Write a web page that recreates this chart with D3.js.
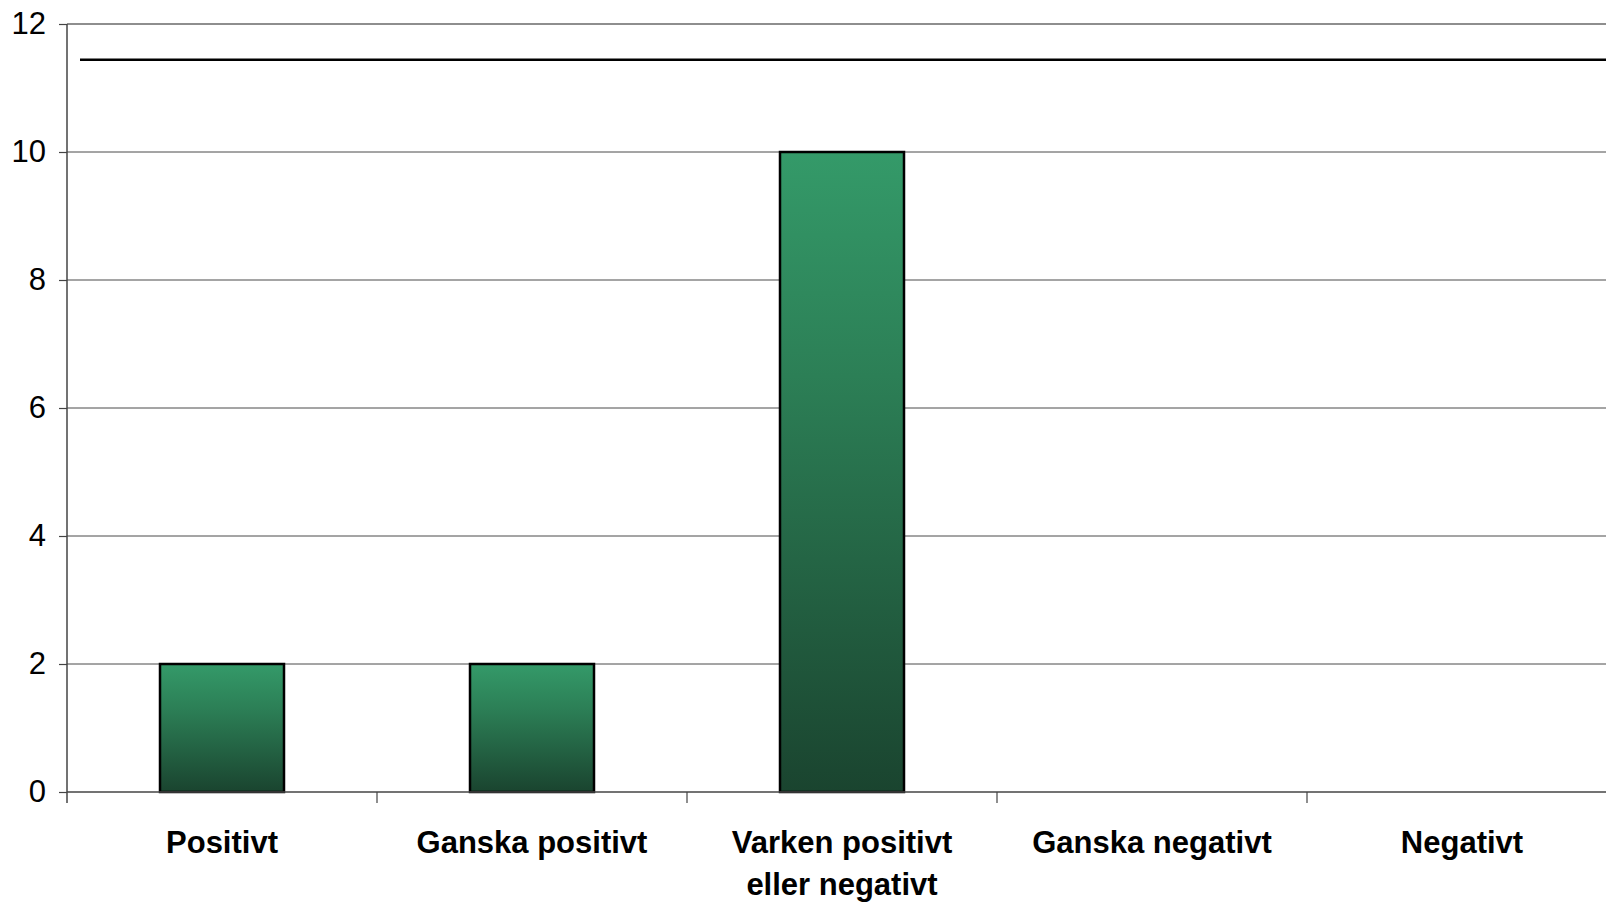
<!DOCTYPE html>
<html>
<head>
<meta charset="utf-8">
<script src="https://cdn.jsdelivr.net/npm/d3@7"></script>
<style>
  html, body { margin: 0; padding: 0; background: #fff; overflow: hidden; }
  svg { display: block; font-family: "Liberation Sans", Arial, sans-serif; }
</style>
</head>
<body>
<div id="chart"></div>
<script>
let width = 1606;
let height = 904;
let margin = ({top: 24, right: -11, bottom: 112, left: 67});

// Data
let categories = ["Positivt", "Ganska positivt", "Varken positivt|eller negativt", "Ganska negativt", "Negativt"];
let values = [2, 2, 10, 0, 0];
let yTicks = [0, 2, 4, 6, 8, 10, 12];
let refLine = 11.44;

let svg = d3.select("#chart")
    .append("svg")
    .attr("width", width)
    .attr("height", height);

// Gradient used for bars
let grad = svg.append("defs").append("linearGradient")
    .attr("id", "barGrad")
    .attr("x1", 0).attr("y1", 0).attr("x2", 0).attr("y2", 1);
grad.append("stop").attr("offset", "0%").attr("stop-color", "#349a69");
grad.append("stop").attr("offset", "35%").attr("stop-color", "#2c7f56");
grad.append("stop").attr("offset", "100%").attr("stop-color", "#1a442f");

let xScale = d3.scaleBand()
    .domain(categories)
    .range([margin.left, width - margin.right])
    .paddingInner(0.6)
    .paddingOuter(0.3);

let yScale = d3.scaleLinear()
    .domain([0, 12])
    .range([height - margin.bottom, margin.top]);

// Gridlines
svg.append("g")
    .selectAll("line")
    .data(yTicks.filter(d => d > 0))
    .enter()
    .append("line")
    .attr("x1", margin.left)
    .attr("x2", width)
    .attr("y1", d => yScale(d))
    .attr("y2", d => yScale(d))
    .attr("stroke", d => d === 12 ? "#8e8e8e" : "#4a4a4a")
    .attr("stroke-width", d => d === 12 ? 2 : 1);

// Reference line
svg.append("line")
    .attr("x1", margin.left + 13)
    .attr("x2", width)
    .attr("y1", yScale(refLine))
    .attr("y2", yScale(refLine))
    .attr("stroke", "#000")
    .attr("stroke-width", 2.5);

// Bars
svg.append("g")
    .selectAll("rect")
    .data(values.map((v, i) => ({cat: categories[i], value: v})).filter(d => d.value > 0))
    .enter()
    .append("rect")
    .attr("x", d => xScale(d.cat))
    .attr("y", d => yScale(d.value))
    .attr("width", xScale.bandwidth())
    .attr("height", d => yScale(0) - yScale(d.value))
    .attr("fill", "url(#barGrad)")
    .attr("stroke", "#000")
    .attr("stroke-width", 2.5);

// Y axis
let yAxis = d3.axisLeft(yScale)
    .tickValues(yTicks)
    .tickSize(8)
    .tickPadding(13)
    .tickSizeOuter(0);

let yG = svg.append("g")
    .attr("transform", "translate(" + margin.left + ",0)")
    .call(yAxis);
yG.select(".domain").attr("stroke", "#444").attr("stroke-width", 1.5)
    .attr("d", "M0," + yScale(12) + "V" + (yScale(0) + 11));
yG.selectAll(".tick line").attr("stroke", "#444").attr("stroke-width", 1.2);
yG.selectAll(".tick text")
    .attr("font-size", 31)
    .attr("fill", "#000")
    .attr("font-family", "Liberation Sans, Arial, sans-serif");

// X axis line and ticks at band boundaries
let step = xScale.step();
let boundaries = categories.map((c, i) => margin.left + step * (i + 1));
svg.append("line")
    .attr("x1", margin.left)
    .attr("x2", width)
    .attr("y1", yScale(0))
    .attr("y2", yScale(0))
    .attr("stroke", "#444")
    .attr("stroke-width", 1.5);
svg.append("g")
    .selectAll("line")
    .data(boundaries)
    .enter()
    .append("line")
    .attr("x1", d => d)
    .attr("x2", d => d)
    .attr("y1", yScale(0))
    .attr("y2", yScale(0) + 11)
    .attr("stroke", "#444")
    .attr("stroke-width", 1.2);

// Category labels
let labels = svg.append("g")
    .selectAll("text")
    .data(categories)
    .enter()
    .append("text")
    .attr("text-anchor", "middle")
    .attr("font-size", 31)
    .attr("font-weight", "bold")
    .attr("fill", "#000")
    .attr("y", yScale(0) + 61);

labels.each(function(d) {
    let parts = d.split("|");
    let t = d3.select(this);
    let cx = xScale(d) + xScale.bandwidth() / 2;
    parts.forEach((p, i) => {
        t.append("tspan")
            .attr("x", cx)
            .attr("dy", i === 0 ? 0 : 42)
            .text(p);
    });
});
</script>
</body>
</html>
